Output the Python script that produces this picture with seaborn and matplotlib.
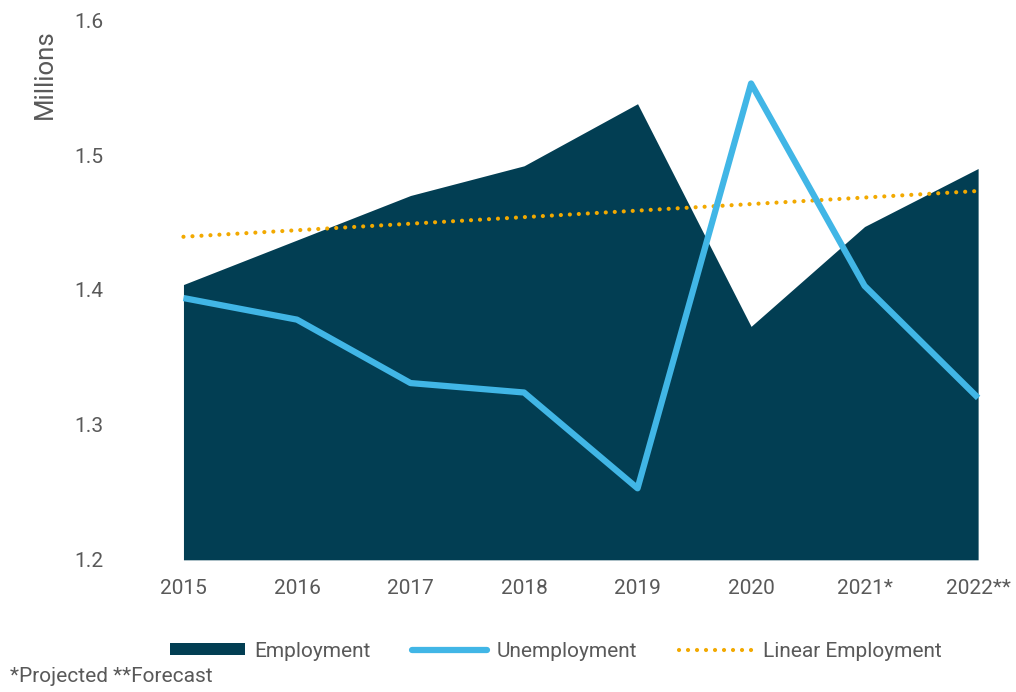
import numpy as np
import pandas as pd
import matplotlib
matplotlib.use("Agg")
import matplotlib.pyplot as plt
import seaborn as sns
from matplotlib.patches import Patch
from matplotlib.lines import Line2D

years = ["2015", "2016", "2017", "2018", "2019", "2020", "2021*", "2022**"]
employment = [1.404, 1.437, 1.470, 1.492, 1.538, 1.373, 1.447, 1.490]
unemployment = [1.394, 1.378, 1.331, 1.324, 1.253, 1.553, 1.403, 1.320]
y_ticks = [1.2, 1.3, 1.4, 1.5, 1.6]

sns.set_style("white")
plt.rcParams["font.family"] = ["Roboto", "DejaVu Sans"]

C_AREA = "#023e53"
C_LINE = "#41b6e6"
C_TREND = "#f2a900"
C_TEXT = "#595959"
TREND_LS = (0, (0.01, 2.15))

df = pd.DataFrame({"idx": np.arange(len(years)), "year": years,
                   "employment": employment, "unemployment": unemployment})

fig = plt.figure(figsize=(10.16, 6.92), dpi=100)
ax = fig.add_axes([0.118, 0.191, 0.876, 0.780])

ax.fill_between(df["idx"], y_ticks[0], df["employment"], color=C_AREA, lw=0, zorder=1)
sns.regplot(data=df, x="idx", y="employment", scatter=False, ci=None, ax=ax,
            line_kws=dict(color=C_TREND, lw=3.0, linestyle=TREND_LS,
                          dash_capstyle="round", zorder=2))
sns.lineplot(data=df, x="idx", y="unemployment", ax=ax, color=C_LINE, lw=4.5,
             solid_joinstyle="round", solid_capstyle="butt", zorder=3)

ax.set_xlim(-0.56, 7.28)
ax.set_ylim(y_ticks[0], y_ticks[-1])
ax.set_xticks(df["idx"])
ax.set_xticklabels(years)
ax.set_yticks(y_ticks)
ax.set_yticklabels([f"{v:.1f}" for v in y_ticks])
ax.tick_params(axis="x", length=0, pad=14, labelsize=15, labelcolor=C_TEXT)
ax.tick_params(axis="y", length=0, pad=12, labelsize=15, labelcolor=C_TEXT)
ax.set_xlabel("")
ax.set_ylabel("")
for s in ax.spines.values():
    s.set_visible(False)

fig.text(0.044, 1 - 74 / 692, "Millions", rotation=90, ha="center", va="center",
         fontsize=18.5, color=C_TEXT)

handles = [
    Patch(facecolor=C_AREA, edgecolor="none", label="Employment"),
    Line2D([], [], color=C_LINE, lw=4.5, solid_capstyle="round", label="Unemployment"),
    Line2D([], [], color=C_TREND, lw=3.0, linestyle=TREND_LS,
           dash_capstyle="round", label="Linear Employment"),
]
fig.legend(handles=handles, loc="center", bbox_to_anchor=(0.547, 0.059), ncol=3,
           frameon=False, fontsize=15, labelcolor=C_TEXT, handlelength=3.6,
           handleheight=0.5, handletextpad=0.45, columnspacing=2.0)

fig.text(0.01, 0.022, "*Projected **Forecast", ha="left", va="center",
         fontsize=15, color=C_TEXT)

fig.savefig("out.png", dpi=100)
